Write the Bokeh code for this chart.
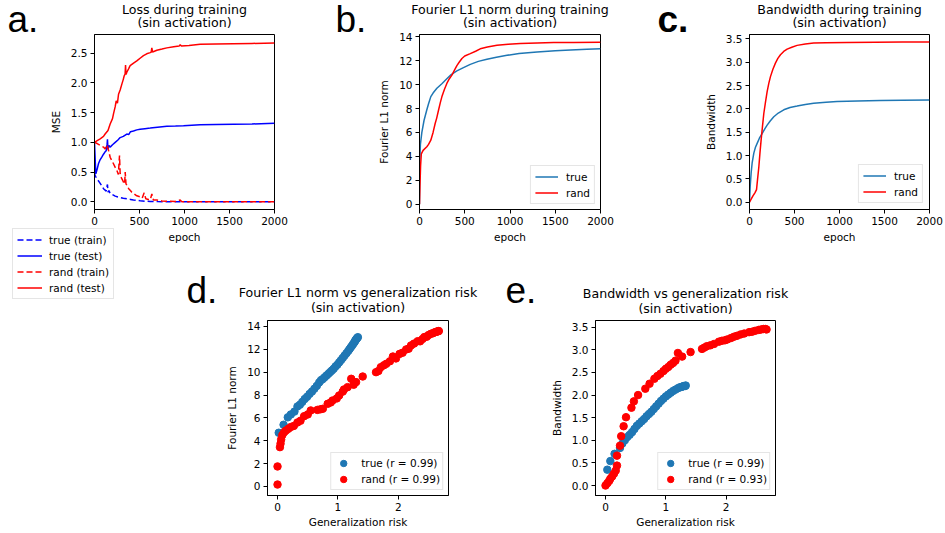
import numpy as np
from bokeh.plotting import figure
from bokeh.models import (Range1d, FixedTicker, NumeralTickFormatter, Legend,
                          LegendItem, Label, Spacer)
from bokeh.layouts import row, column
from bokeh.embed import file_html
from bokeh.resources import INLINE

# ---------------- data ----------------
# Panel a: MSE during training
a_true_train_ep = [0, 5, 15, 26, 45, 63, 80, 100, 115, 130, 137, 144, 150, 160, 174, 200, 230,
                   260, 290, 320, 360, 400, 433, 470, 507, 560, 620, 700, 800, 1000, 1200,
                   1400, 1600, 1800, 2000]
a_true_train = [0.50, 0.45, 0.42, 0.39, 0.35, 0.31, 0.27, 0.22, 0.20, 0.18, 0.25, 0.29, 0.16,
                0.19, 0.14, 0.12, 0.095, 0.08, 0.07, 0.06, 0.05, 0.04, 0.03, 0.025, 0.017,
                0.01, 0.006, 0.003, 0.001, 0.0, 0.0, 0.0, 0.0, 0.0, 0.0]
a_true_test_ep = [0, 8, 15, 30, 44, 60, 81, 100, 118, 130, 140, 144, 150, 160, 174, 200, 230,
                  260, 285, 320, 359, 380, 400, 433, 470, 507, 560, 619, 700, 804, 900, 989,
                  1174, 1350, 1544, 1750, 2000]
a_true_test = [1.00, 0.70, 0.47, 0.55, 0.64, 0.70, 0.75, 0.80, 0.84, 0.86, 0.97, 1.05, 0.88,
               0.95, 0.92, 0.96, 1.00, 1.04, 1.08, 1.10, 1.14, 1.13, 1.18, 1.19, 1.21, 1.22,
               1.23, 1.24, 1.255, 1.27, 1.275, 1.28, 1.295, 1.30, 1.305, 1.31, 1.32]
a_rand_train_ep = [0, 30, 63, 100, 118, 140, 160, 174, 190, 211, 230, 248, 265, 278, 285, 293,
                   310, 322, 335, 341, 350, 359, 380, 396, 415, 433, 470, 507, 530, 552, 570,
                   600, 620, 637, 655, 693, 750, 804, 900, 952, 970, 1100, 1300, 1500, 1700,
                   2000]
a_rand_train = [1.00, 0.98, 0.95, 0.92, 0.89, 0.96, 0.84, 0.75, 0.70, 0.64, 0.58, 0.53, 0.46,
                0.78, 0.48, 0.42, 0.37, 0.33, 0.30, 0.50, 0.30, 0.28, 0.22, 0.195, 0.16, 0.14,
                0.10, 0.084, 0.06, 0.15, 0.05, 0.04, 0.035, 0.13, 0.03, 0.028, 0.015, 0.01,
                0.005, 0.03, 0.002, 0.0, 0.0, 0.0, 0.0, 0.0]
a_rand_test_ep = [0, 30, 63, 100, 118, 150, 174, 200, 211, 230, 241, 255, 267, 285, 304, 320,
                  330, 340, 345, 350, 359, 380, 396, 430, 470, 510, 544, 580, 619, 630, 637,
                  645, 693, 750, 804, 880, 940, 952, 965, 1050, 1174, 1350, 1544, 1750, 2000]
a_rand_test = [1.00, 1.03, 1.06, 1.10, 1.14, 1.20, 1.31, 1.40, 1.48, 1.60, 1.70, 1.66, 1.81,
               1.88, 1.98, 2.06, 2.12, 2.15, 2.30, 2.14, 2.18, 2.24, 2.29, 2.33, 2.37, 2.42,
               2.46, 2.49, 2.51, 2.52, 2.59, 2.52, 2.55, 2.57, 2.59, 2.61, 2.62, 2.645, 2.62,
               2.63, 2.65, 2.655, 2.66, 2.665, 2.67]

# Panel b: Fourier L1 norm during training
b_true_ep = [0, 3, 10, 26, 50, 81, 100, 125, 150, 192, 250, 302, 350, 413, 480, 561, 650, 745,
             850, 967, 1100, 1299, 1500, 1668, 1850, 2000]
b_true = [0.0, 3.5, 5.0, 6.0, 7.0, 7.9, 8.4, 9.0, 9.3, 9.7, 10.1, 10.5, 10.85, 11.15, 11.4,
          11.7, 11.95, 12.13, 12.3, 12.46, 12.6, 12.74, 12.83, 12.9, 12.96, 13.0]
b_rand_ep = [0, 5, 12, 20, 40, 81, 100, 125, 150, 173, 190, 210, 230, 247, 275, 302, 330, 358,
             385, 413, 440, 469, 500, 561, 620, 671, 750, 856, 980, 1114, 1300, 1483, 1700, 2000]
b_rand = [0.0, 1.5, 3.2, 4.2, 4.5, 4.8, 5.0, 5.35, 6.0, 6.75, 7.2, 7.86, 8.5, 8.98, 9.6, 10.1,
          10.5, 10.8, 11.2, 11.6, 11.9, 12.19, 12.4, 12.6, 12.8, 13.0, 13.15, 13.3, 13.38,
          13.44, 13.49, 13.52, 13.54, 13.55]

# Panel c: Bandwidth during training
c_true_ep = [0, 8, 18, 30, 48, 65, 85, 110, 140, 170, 196, 230, 270, 320, 381, 450, 529, 620,
             713, 850, 972, 1200, 1453, 1700, 2000]
c_true = [0.0, 0.35, 0.62, 0.85, 1.05, 1.17, 1.26, 1.37, 1.47, 1.57, 1.65, 1.74, 1.83, 1.91,
          1.98, 2.03, 2.06, 2.095, 2.12, 2.14, 2.155, 2.17, 2.18, 2.185, 2.19]
c_rand_ep = [0, 20, 40, 60, 78, 90, 104, 116, 129, 144, 159, 178, 196, 215, 233, 260, 288, 315,
             344, 380, 418, 470, 529, 620, 713, 850, 1083, 1400, 1700, 2000]
c_rand = [0.0, 0.07, 0.14, 0.2, 0.27, 0.5, 0.76, 1.05, 1.33, 1.62, 1.9, 2.15, 2.37, 2.55, 2.69,
          2.85, 2.98, 3.08, 3.16, 3.23, 3.28, 3.32, 3.36, 3.39, 3.41, 3.415, 3.42, 3.425, 3.43,
          3.43]

# Panel d: Fourier L1 norm vs generalization risk
d_true_x = [0.02, 0.10, 0.17, 0.22, 0.28, 0.33, 0.37, 0.41, 0.45, 0.49, 0.53, 0.57, 0.61, 0.65,
            0.69, 0.72, 0.75, 0.78, 0.81, 0.84, 0.87, 0.90, 0.93, 0.96, 0.99, 1.02, 1.05, 1.08,
            1.11, 1.14, 1.17, 1.19, 1.21, 1.23, 1.25, 1.27, 1.28, 1.29, 1.30, 1.31, 1.32, 1.33]
d_true_y = [4.7, 5.4, 6.05, 6.3, 6.55, 7.0, 7.15, 7.4, 7.65, 7.85, 8.1, 8.3, 8.55, 8.8, 9.1,
            9.3, 9.4, 9.55, 9.7, 9.85, 10.0, 10.15, 10.3, 10.5, 10.65, 10.85, 11.05, 11.25,
            11.45, 11.65, 11.85, 12.0, 12.15, 12.3, 12.45, 12.6, 12.7, 12.78, 12.86, 12.93,
            13.0, 13.06]
d_rand_x = [0.0, 0.0, 0.04, 0.05, 0.06, 0.08, 0.11, 0.14, 0.18, 0.22, 0.27, 0.33, 0.38, 0.44,
            0.50, 0.55, 0.66, 0.71, 0.75, 0.83, 0.88, 0.91, 0.98, 1.02, 1.08, 1.10, 1.16, 1.22,
            1.26, 1.30, 1.41, 1.63, 1.67, 1.71, 1.76, 1.80, 1.86, 1.91, 1.96, 2.02, 2.07, 2.13,
            2.17, 2.21, 2.26, 2.32, 2.36, 2.40, 2.43, 2.47, 2.50, 2.54, 2.57, 2.60, 2.62, 2.64,
            2.66, 2.67]
d_rand_y = [0.17, 1.75, 3.44, 3.75, 4.1, 4.5, 4.75, 4.9, 5.05, 5.2, 5.3, 5.6, 5.75, 6.15, 6.3,
            6.65, 6.7, 6.75, 6.8, 7.23, 7.35, 7.52, 7.7, 7.96, 8.3, 8.49, 8.69, 9.42, 8.9, 9.13,
            9.62, 10.0, 10.1, 10.44, 10.6, 10.73, 10.95, 11.37, 11.2, 11.6, 11.7, 11.99, 12.05,
            12.34, 12.5, 12.71, 12.7, 12.9, 13.07, 13.1, 13.25, 13.36, 13.4, 13.48, 13.52,
            13.55, 13.58, 13.6]

# Panel e: Bandwidth vs generalization risk
e_true_x = [0.03, 0.08, 0.15, 0.24, 0.28, 0.32, 0.36, 0.40, 0.44, 0.48, 0.52, 0.56, 0.60, 0.64,
            0.68, 0.72, 0.76, 0.80, 0.84, 0.88, 0.92, 0.96, 1.00, 1.04, 1.08, 1.12, 1.16, 1.20,
            1.23, 1.26, 1.28, 1.30, 1.32, 1.33]
e_true_y = [0.35, 0.54, 0.70, 0.83, 0.93, 1.0, 1.07, 1.12, 1.18, 1.25, 1.32, 1.37, 1.42, 1.47,
            1.53, 1.58, 1.63, 1.69, 1.75, 1.81, 1.87, 1.92, 1.97, 2.01, 2.05, 2.09, 2.12, 2.15,
            2.17, 2.18, 2.19, 2.2, 2.2, 2.21]
e_rand_x = [0.0, 0.03, 0.06, 0.08, 0.11, 0.14, 0.17, 0.19, 0.19, 0.24, 0.26, 0.30, 0.34, 0.43,
            0.47, 0.54, 0.66, 0.73, 0.81, 0.86, 0.91, 0.96, 1.0, 1.04, 1.08, 1.12, 1.16, 1.2,
            1.27, 1.41, 1.6, 1.64, 1.68, 1.74, 1.8, 1.88, 1.93, 1.98, 2.02, 2.08, 2.13, 2.18,
            2.24, 2.3, 2.38, 2.43, 2.48, 2.54, 2.58, 2.62, 2.65, 2.67]
e_rand_y = [0.0, 0.05, 0.1, 0.15, 0.2, 0.26, 0.33, 0.44, 0.66, 0.88, 1.09, 1.31, 1.51, 1.72,
            1.86, 2.0, 2.14, 2.25, 2.36, 2.42, 2.47, 2.53, 2.58, 2.62, 2.67, 2.71, 2.76, 2.93,
            2.85, 2.95, 3.02, 3.05, 3.08, 3.1, 3.13, 3.18, 3.2, 3.21, 3.23, 3.26, 3.29, 3.31,
            3.34, 3.36, 3.39, 3.4, 3.42, 3.44, 3.45, 3.46, 3.46, 3.45]

epoch_ticks = [0, 500, 1000, 1500, 2000]
risk_ticks = [0, 1, 2]
l1_ticks = [0, 2, 4, 6, 8, 10, 12, 14]
bw_ticks = [0.0, 0.5, 1.0, 1.5, 2.0, 2.5, 3.0, 3.5]
mse_ticks = [0.0, 0.5, 1.0, 1.5, 2.0, 2.5]

titles = {
    "a": ["Loss during training", "(sin activation)"],
    "b": ["Fourier L1 norm during training", "(sin activation)"],
    "c": ["Bandwidth during training", "(sin activation)"],
    "d": ["Fourier L1 norm vs generalization risk", "(sin activation)"],
    "e": ["Bandwidth vs generalization risk", "(sin activation)"],
}
legend_a_labels = ["true (train)", "true (test)", "rand (train)", "rand (test)"]

# ---------------- styling ----------------
FONT = "DejaVu Sans"
LETTER_FONT = "Liberation Sans"
SMALL = "10.5px"
TITLE_PX = 12.6
BIG_PX = 37
PURE_BLUE = "#0000ff"
RED = "#ff0000"
TAB_BLUE = "#1f77b4"
PAGE_W, PAGE_H = 945, 533


def make_fig(width, height, borders, xr, yr, xticks, yticks, xlabel, ylabel,
             yfmt=None, lab_standoff=3, axlab_standoff=3):
    l, r, t, b = borders
    p = figure(width=width, height=height, x_range=Range1d(*xr), y_range=Range1d(*yr),
               output_backend="svg", toolbar_location=None, tools="", title=None,
               min_border_left=l, min_border_right=r, min_border_top=t, min_border_bottom=b)
    p.xgrid.visible = False
    p.ygrid.visible = False
    p.outline_line_color = "black"
    p.outline_line_width = 1
    p.outline_line_alpha = 1
    p.background_fill_color = "white"
    p.border_fill_color = None
    for ax in (p.xaxis[0], p.yaxis[0]):
        ax.major_tick_in = 0
        ax.major_tick_out = 4
        ax.minor_tick_line_color = None
        ax.axis_line_color = "black"
        ax.major_tick_line_color = "black"
        ax.major_label_text_font = FONT
        ax.major_label_text_font_size = SMALL
        ax.major_label_text_color = "black"
        ax.axis_label_text_font = FONT
        ax.axis_label_text_font_size = SMALL
        ax.axis_label_text_font_style = "normal"
        ax.axis_label_text_color = "black"
        ax.major_label_standoff = lab_standoff
    p.xaxis[0].axis_label_standoff = axlab_standoff
    p.yaxis[0].axis_label_standoff = 6
    p.xaxis[0].ticker = FixedTicker(ticks=xticks)
    p.yaxis[0].ticker = FixedTicker(ticks=yticks)
    if yfmt:
        p.yaxis[0].formatter = NumeralTickFormatter(format=yfmt)
    p.xaxis[0].axis_label = xlabel
    p.yaxis[0].axis_label = ylabel
    return p


def style_legend(leg, glyph_w, glyph_h, spacing, padding, standoff):
    leg.label_text_font = FONT
    leg.label_text_font_size = SMALL
    leg.label_text_color = "black"
    leg.glyph_width = glyph_w
    leg.glyph_height = glyph_h
    leg.label_height = glyph_h
    leg.spacing = spacing
    leg.padding = padding
    leg.label_standoff = standoff
    leg.border_line_color = "#cccccc"
    leg.border_line_width = 1
    leg.background_fill_color = "white"
    leg.background_fill_alpha = 0.8


# ---------------- row 1 (page y 0 .. 250) ----------------
ROW1_H = 250
R1_TB = (34, 41)   # frame y 34 .. 209

fa = make_fig(330, ROW1_H, (94, 56) + R1_TB, (0, 2000), (-0.13, 2.815),
              epoch_ticks, mse_ticks, "epoch", "MSE", yfmt="0.0")
fa.line(a_true_train_ep, a_true_train, line_color=PURE_BLUE, line_width=1.5, line_dash="6 3")
fa.line(a_true_test_ep, a_true_test, line_color=PURE_BLUE, line_width=1.5)
fa.line(a_rand_train_ep, a_rand_train, line_color=RED, line_width=1.5, line_dash="6 3")
fa.line(a_rand_test_ep, a_rand_test, line_color=RED, line_width=1.5)

fb = make_fig(330, ROW1_H, (89, 60) + R1_TB, (0, 2000), (-0.45, 14.2),
              epoch_ticks, l1_ticks, "epoch", "Fourier L1 norm")
rb1 = fb.line(b_true_ep, b_true, line_color=TAB_BLUE, line_width=1.5)
rb2 = fb.line(b_rand_ep, b_rand, line_color=RED, line_width=1.5)
leg_b = Legend(items=[LegendItem(label="true", renderers=[rb1]),
                      LegendItem(label="rand", renderers=[rb2])],
               location="bottom_right", margin=5)
style_legend(leg_b, 23, 13, 3, 4, 8)
fb.add_layout(leg_b)

fc = make_fig(285, ROW1_H, (89, 16) + R1_TB, (0, 2000), (-0.157, 3.593),
              epoch_ticks, bw_ticks, "epoch", "Bandwidth", yfmt="0.0")
rc1 = fc.line(c_true_ep, c_true, line_color=TAB_BLUE, line_width=1.5)
rc2 = fc.line(c_rand_ep, c_rand, line_color=RED, line_width=1.5)
leg_c = Legend(items=[LegendItem(label="true", renderers=[rc1]),
                      LegendItem(label="rand", renderers=[rc2])],
               location="bottom_right", margin=6)
style_legend(leg_c, 23, 13, 3, 4, 8)
fc.add_layout(leg_c)

# ---------------- row 2 (page y 250 .. 533) ----------------
ROW2_H = 283
R2_TB = (70, 38)   # frame y 320 .. 495

fd = make_fig(320, ROW2_H, (87, 52) + R2_TB, (-0.166, 2.83), (-0.79, 14.52),
              risk_ticks, l1_ticks, "Generalization risk", "Fourier L1 norm",
              lab_standoff=3, axlab_standoff=2)
rd1 = fd.scatter(d_true_x, d_true_y, size=7.5, color=TAB_BLUE)
rd2 = fd.scatter(d_rand_x, d_rand_y, size=7.5, color=RED)
leg_d = Legend(items=[LegendItem(label="true (r = 0.99)", renderers=[rd1]),
                      LegendItem(label="rand (r = 0.99)", renderers=[rd2])],
               location="bottom_right", margin=5)
style_legend(leg_d, 20, 16, 0, 2, 8)
fd.add_layout(leg_d)

fe = make_fig(300, ROW2_H, (95, 25) + R2_TB, (-0.166, 2.818), (-0.221, 3.648),
              risk_ticks, bw_ticks, "Generalization risk", "Bandwidth", yfmt="0.0",
              lab_standoff=3, axlab_standoff=2)
re1 = fe.scatter(e_true_x, e_true_y, size=7.5, color=TAB_BLUE)
re2 = fe.scatter(e_rand_x, e_rand_y, size=7.5, color=RED)
leg_e = Legend(items=[LegendItem(label="true (r = 0.99)", renderers=[re1]),
                      LegendItem(label="rand (r = 0.93)", renderers=[re2])],
               location="bottom_right", margin=5)
style_legend(leg_e, 20, 16, 0, 2, 8)
fe.add_layout(leg_e)

# ---------------- text overlay (page-pixel coordinates, covers the page) ----------------
ov = figure(width=PAGE_W, height=PAGE_H, x_range=Range1d(0, PAGE_W), y_range=Range1d(PAGE_H, 0),
            output_backend="svg", toolbar_location=None, tools="", title=None,
            x_axis_location=None, y_axis_location=None, min_border=0)
ov.xgrid.visible = False
ov.ygrid.visible = False
ov.outline_line_color = None
ov.background_fill_color = None
ov.border_fill_color = None


def add_text(text, x, y, size_px, font=FONT, align="left", style="normal"):
    # baseline correction measured on the rendered page (~0.4 em)
    ov.add_layout(Label(x=x, y=y - 0.4 * size_px, text=text, text_font=font,
                        text_font_size=f"{size_px}px", text_align=align,
                        text_baseline="alphabetic", text_color="black",
                        text_font_style=style))


# (key, title centre x, baseline line 1, baseline line 2, letter x, letter baseline, letter style)
placements = [
    ("a", 184, 14, 27, 7, 34, "normal"),
    ("b", 509.5, 14, 27.5, 335, 34, "normal"),
    ("c", 839, 14, 27.5, 657, 34, "bold"),
    ("d", 357.5, 297.5, 312, 186, 305, "normal"),
    ("e", 685, 298, 313, 505, 304, "normal"),
]
for key, cx, y1, y2, lx, ly, lstyle in placements:
    add_text(titles[key][0], cx, y1, TITLE_PX, align="center")
    add_text(titles[key][1], cx, y2, TITLE_PX, align="center")
    add_text(key + ".", lx, ly, BIG_PX, font=LETTER_FONT, style=lstyle)

# legend of panel a (it sits outside panel a's frame, so it lives on the overlay;
# its key renderers hold no visible data)
nan1 = np.array([np.nan])
la1 = ov.line(nan1, nan1, line_color=PURE_BLUE, line_width=1.5, line_dash="6 3")
la2 = ov.line(nan1, nan1, line_color=PURE_BLUE, line_width=1.5)
la3 = ov.line(nan1, nan1, line_color=RED, line_width=1.5, line_dash="6 3")
la4 = ov.line(nan1, nan1, line_color=RED, line_width=1.5)
leg_a = Legend(items=[LegendItem(label=lab, renderers=[r])
                      for lab, r in zip(legend_a_labels, [la1, la2, la3, la4])],
               location=(12, PAGE_H - 299))
style_legend(leg_a, 25, 13, 3, 4, 7)
ov.add_layout(leg_a)

row1 = row(fa, fb, fc)
row2 = row(Spacer(width=180, height=ROW2_H), fd, fe)
overlay = row(ov, margin=(-PAGE_H, 0, 0, 0))
layout = column(row1, row2, overlay)

open("out.html", "w").write(file_html(layout, INLINE))
